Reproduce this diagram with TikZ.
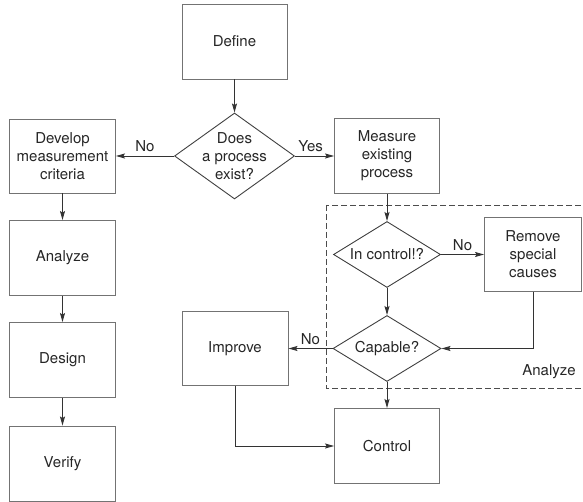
\documentclass[tikz,border=0pt]{standalone}
\usepackage{fontspec}
\setmainfont{TeX Gyre Heros}
\usetikzlibrary{arrows.meta,shapes.geometric}

\begin{document}
\begin{tikzpicture}
	[->,>={Stealth[length=9pt,width=5pt,inset=1.5pt]},x=1pt,y=-1pt,line width=0.9pt,draw=black!80,text=black!85,
		font=\fontsize{15}{18}\selectfont,
		box/.style={rectangle,draw=black!55,minimum width=105pt,minimum height=75pt,align=center,inner sep=2pt},
		decision/.style={diamond,draw=black!75,align=center,inner sep=-12pt,minimum width=108pt,minimum height=66pt}]

	\useasboundingbox (0,0) rectangle (583,502);

	\node[box] (define) at (234.5,41.5) {Define};
	\node[decision,minimum width=120pt,minimum height=86pt] (exist) [node distance=114.5pt,below of = define] {Does\\a process\\exist?};
	\node[box,minimum width=106pt,minimum height=74pt] (develop) [node distance=172pt,left of = exist] {Develop\\measurement\\criteria};
	\node[box] (measure) [node distance=152.5pt,right of = exist] {Measure\\existing\\process};

	% left branch
	\node[box,minimum width=106pt] (analyze) [node distance=102pt,below of = develop] {Analyze};
	\node[box,minimum width=106pt] (design) [node distance=102pt,below of = analyze] {Design};
	\node[box,minimum width=106pt] (verify) [node distance=103.5pt,below of = design] {Verify};

	% right branch
	\node[decision,minimum width=107pt] (incontrol) [node distance=98.5pt,below of = measure] {In control!?};
	\node[box,minimum width=97pt,minimum height=74pt] (remove) [node distance=146pt,right of = incontrol] {Remove\\special\\causes};
	\node[decision] (capable) [node distance=94pt,below of = incontrol] {Capable?};
	\node[box,minimum width=106pt,minimum height=74pt] (improve) [node distance=152pt,left of = capable] {Improve};
	\node[box] (control) [node distance=97.5pt,below of = capable] {Control};

	\draw[-,dashed,dash pattern=on 6pt off 3pt,draw=black!70] (326,205) rectangle (590,388);
	\node (analyzelbl) at (549,372) {Analyze};

	\path[draw]
	(define) edge (exist)
	(exist) edge node[above] {No} (develop)
	(exist) edge node[above,pos=0.4] {Yes} (measure)
	(develop) edge (analyze)
	(analyze) edge (design)
	(design) edge (verify)
	(measure) edge (incontrol)
	(incontrol) edge node[above] {No} (remove)
	(incontrol) edge (capable)
	(capable) edge node[above] {No} (improve)
	(capable) edge (control)
	;
	\draw (remove) |- (capable);
	\draw (improve) |- (control);

\end{tikzpicture}
\end{document}
